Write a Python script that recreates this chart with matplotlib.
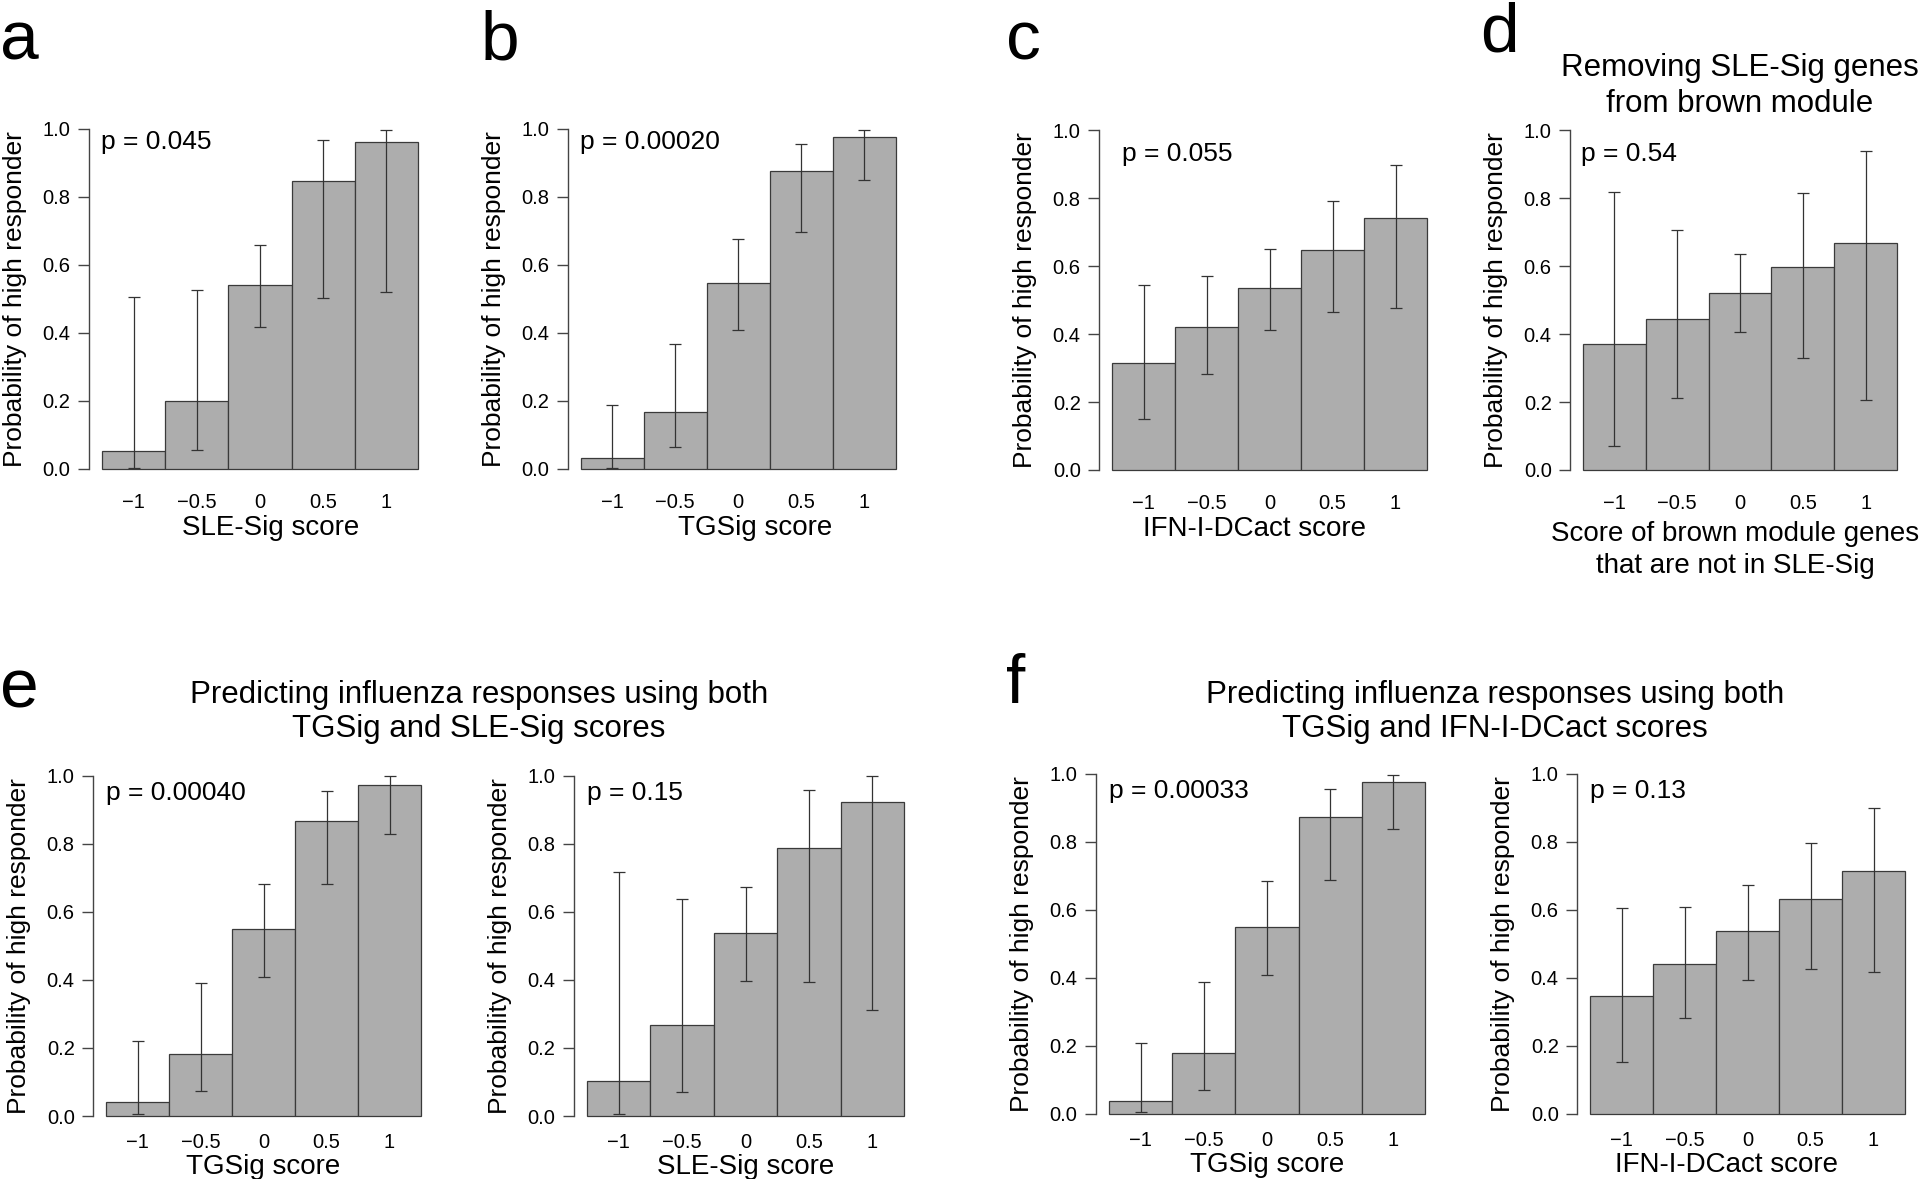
import matplotlib
matplotlib.use("Agg")
import matplotlib.pyplot as plt
import numpy as np

plt.rcParams['font.family'] = ['Liberation Sans', 'DejaVu Sans']

# ---- data ----
score_ticks = ['\u22121', '\u22120.5', '0', '0.5', '1']

a_prob = [0.052, 0.201, 0.540, 0.846, 0.962]
a_lo = [0.002, 0.055, 0.417, 0.504, 0.522]
a_hi = [0.507, 0.525, 0.658, 0.969, 0.998]

b_prob = [0.033, 0.169, 0.546, 0.876, 0.975]
b_lo = [0.004, 0.066, 0.408, 0.696, 0.850]
b_hi = [0.188, 0.367, 0.676, 0.956, 0.996]

c_prob = [0.315, 0.421, 0.535, 0.647, 0.742]
c_lo = [0.150, 0.283, 0.413, 0.464, 0.478]
c_hi = [0.546, 0.571, 0.652, 0.792, 0.899]

d_prob = [0.370, 0.445, 0.520, 0.597, 0.668]
d_lo = [0.071, 0.212, 0.406, 0.331, 0.207]
d_hi = [0.819, 0.706, 0.635, 0.817, 0.940]

e1_prob = [0.040, 0.183, 0.548, 0.867, 0.973]
e1_lo = [0.007, 0.072, 0.407, 0.680, 0.827]
e1_hi = [0.221, 0.392, 0.680, 0.954, 0.998]

e2_prob = [0.104, 0.267, 0.537, 0.787, 0.922]
e2_lo = [0.007, 0.071, 0.397, 0.394, 0.312]
e2_hi = [0.716, 0.638, 0.673, 0.956, 0.999]

f1_prob = [0.037, 0.178, 0.551, 0.873, 0.976]
f1_lo = [0.006, 0.070, 0.408, 0.689, 0.837]
f1_hi = [0.210, 0.388, 0.685, 0.957, 0.998]

f2_prob = [0.347, 0.440, 0.537, 0.632, 0.716]
f2_lo = [0.154, 0.282, 0.394, 0.426, 0.419]
f2_hi = [0.606, 0.609, 0.673, 0.797, 0.900]

p_values = ['0.045', '0.00020', '0.055', '0.54', '0.00040', '0.15', '0.00033', '0.13']
xlabels = ['SLE-Sig score', 'TGSig score', 'IFN-I-DCact score',
           'Score of brown module genes\nthat are not in SLE-Sig',
           'TGSig score', 'SLE-Sig score', 'TGSig score', 'IFN-I-DCact score']
ylabel = 'Probability of high responder'

panels = [(a_prob, a_lo, a_hi), (b_prob, b_lo, b_hi), (c_prob, c_lo, c_hi),
          (d_prob, d_lo, d_hi), (e1_prob, e1_lo, e1_hi), (e2_prob, e2_lo, e2_hi),
          (f1_prob, f1_lo, f1_hi), (f2_prob, f2_lo, f2_hi)]

# ---- layout (pixels: bar block left/right, y of 0 and of 1) ----
W, H = 1920, 1179
boxes = [(102, 418, 469, 129), (580.5, 896, 469, 129),
         (1112, 1427, 470, 130.5), (1583, 1897, 470, 130.5),
         (106, 421, 1116, 775.5), (587, 904, 1116, 775.5),
         (1109, 1425, 1114, 774), (1590, 1905, 1114, 774)]
p_y = [0.962, 0.962, 0.931, 0.931, 0.949, 0.949, 0.949, 0.949]
p_x = [-0.02, 0.0, 0.16, -0.03, 0.0, 0.0, 0.0, 0.0]
xlabel_dx = [11, 17, -15, -5, 0, 0, 0, -21]   # px offset of x label centre
xlabel_pad = [2.5, 2.5, 2.5, 5.5, 2, 2, 2, 2]

BAR = '#adadad'
EDGE = '#3a3a3a'

fig = plt.figure(figsize=(W / 100, H / 100), dpi=100)

for i, ((prob, lo, hi), (x0, x1, y0, y1)) in enumerate(zip(panels, boxes)):
    w = x1 - x0
    h = y0 - y1
    left = x0 - 0.04 * w
    bottom = y0 + 0.04 * h
    ax = fig.add_axes([left / W, 1 - bottom / H, 1.08 * w / W, 1.08 * h / H])

    prob = np.array(prob)
    xs = np.arange(len(prob)) + 0.5
    ax.bar(xs, prob, width=1.0, color=BAR, edgecolor=EDGE, linewidth=0.9)
    ax.errorbar(xs, prob, yerr=[prob - np.array(lo), np.array(hi) - prob],
                fmt='none', ecolor='#333333', elinewidth=0.9, capsize=4.3, capthick=0.9)

    ax.set_xlim(-0.2, 5.2)
    ax.set_ylim(-0.04, 1.04)
    for s in ['top', 'right', 'bottom']:
        ax.spines[s].set_visible(False)
    ax.spines['left'].set_bounds(0, 1)
    ax.spines['left'].set_color('#444444')
    ax.spines['left'].set_linewidth(1.0)

    ax.set_yticks(np.arange(0, 1.01, 0.2))
    ax.set_yticklabels(['%.1f' % v for v in np.arange(0, 1.01, 0.2)])
    ax.tick_params(axis='y', length=8, width=1.0, color='#444444', pad=5.5, labelsize=14.5)
    ax.set_xticks(xs)
    ax.set_xticklabels(score_ticks)
    top_row = i < 4
    ax.tick_params(axis='x', length=0, pad=7.5 if top_row else 2.2, labelsize=14.5)

    ax.set_xlabel(xlabels[i], fontsize=20, labelpad=xlabel_pad[i],
                  linespacing=1.32)
    ax.xaxis.label.set_x(0.5 + xlabel_dx[i] / (1.08 * w))
    ax.set_ylabel(ylabel, fontsize=19)
    ax.yaxis.set_label_coords(-62 / (1.08 * w), 0.5)

    ax.text(p_x[i], p_y[i], 'p = ' + p_values[i], fontsize=19, va='center', ha='left')

# panel letters
letters = [('a', 0, 60), ('b', 481, 60), ('c', 1006, 59), ('d', 1480, 51),
           ('e', 0, 707), ('f', 1006, 703)]
for t, x, y in letters:
    fig.text(x / W, 1 - y / H, t, fontsize=50, ha='left', va='baseline')

# titles
fig.text(1740 / W, 1 - 86 / H, 'Removing SLE-Sig genes\nfrom brown module',
         fontsize=22.5, ha='center', va='center', linespacing=1.3)
fig.text(479 / W, 1 - 712 / H, 'Predicting influenza responses using both\nTGSig and SLE-Sig scores',
         fontsize=22.5, ha='center', va='center', linespacing=1.2)
fig.text(1495 / W, 1 - 712 / H, 'Predicting influenza responses using both\nTGSig and IFN-I-DCact scores',
         fontsize=22.5, ha='center', va='center', linespacing=1.2)

fig.savefig('out.png', dpi=100, facecolor='white')
